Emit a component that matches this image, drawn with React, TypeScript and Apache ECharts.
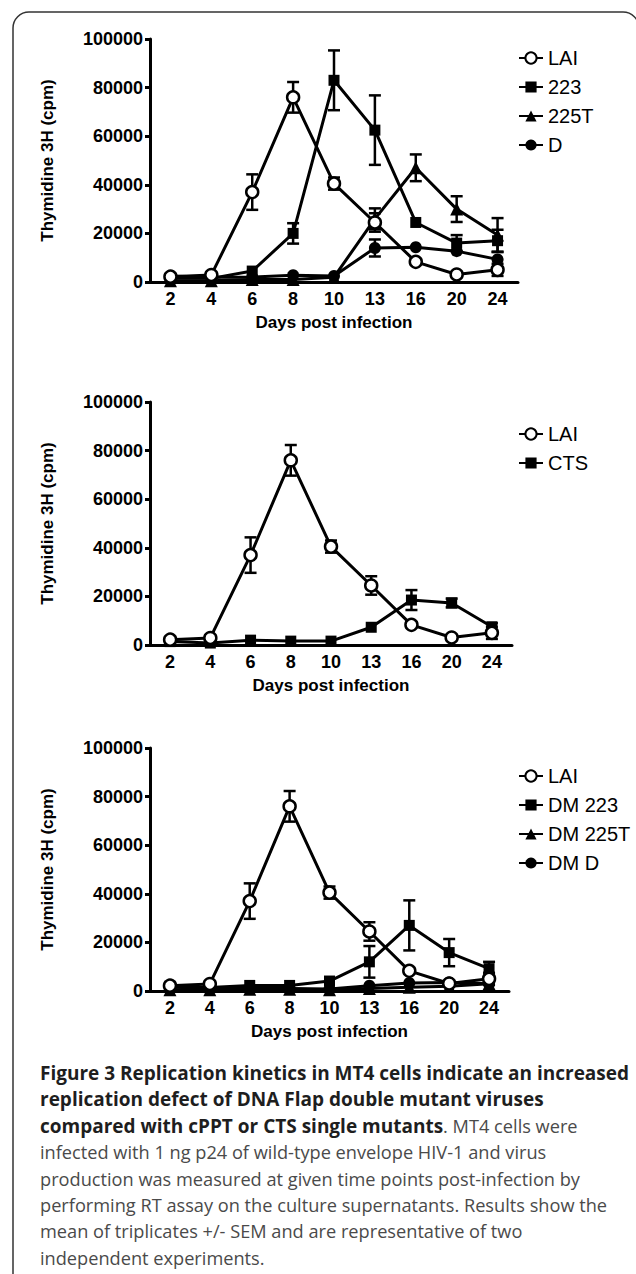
import React, { useEffect, useRef } from "react";
import * as echarts from "echarts";

// ---- data ----
const days = ["2", "4", "6", "8", "10", "13", "16", "20", "24"];

const lai = [2200, 2900, 37000, 76000, 40500, 24500, 8300, 3100, 5000];
const laiSem = [null, null, 7300, 6300, 2500, 3800, null, null, 2500];

const m223 = [1500, 1500, 4500, 20000, 83000, 62500, 24500, 16000, 17000];
const m223Sem = [null, null, null, 4200, 12300, 14300, null, 3300, 4500];

const m225T = [500, 500, 1000, 1000, 2000, 26000, 47000, 30000, 19300];
const m225TSem = [null, null, null, null, null, 4300, 5500, 5300, 7000];

const mD = [2500, 2000, 2000, 2800, 2500, 14000, 14300, 12700, 9300];
const mDSem = [null, null, null, null, null, 3500, null, null, null];

const cts = [1400, 800, 2000, 1600, 1600, 7300, 18500, 17300, 7500];
const ctsSem = [null, null, null, null, null, null, 4100, 1800, 1500];

const dm223 = [2000, 1400, 2300, 2300, 4100, 12000, 27000, 15800, 9200];
const dm223Sem = [null, null, null, null, null, 6500, 10300, 5600, 2800];

const dm225T = [500, 500, 700, 700, 500, 1000, 1500, 2000, 3000];
const dmD = [1500, 1200, 1000, 1000, 800, 2200, 3300, 3500, 3000];

const legendTop = ["LAI", "223", "225T", "D"];
const legendMid = ["LAI", "CTS"];
const legendBot = ["LAI", "DM 223", "DM 225T", "DM D"];

const captionLines = [
  "Figure 3 Replication kinetics in MT4 cells indicate an increased",
  "replication defect of DNA Flap double mutant viruses",
  "compared with cPPT or CTS single mutants",
  "infected with 1 ng p24 of wild-type envelope HIV-1 and virus",
  "production was measured at given time points post-infection by",
  "performing RT assay on the culture supernatants. Results show the",
  "mean of triplicates +/- SEM and are representative of two",
  "independent experiments.",
];
const captionTail = ". MT4 cells were";

const FONT = "'Liberation Sans', Arial, Helvetica, sans-serif";
const CAP_FONT = "'Open Sans', 'Noto Sans', sans-serif";

function errRender(params: any, api: any) {
  const x = api.value(0);
  const m = api.value(1);
  const e = api.value(2);
  const hi = api.coord([x, m + e]);
  const lo = api.coord([x, m - e]);
  const w = 6;
  const st = { stroke: "#000", lineWidth: 2.5 };
  return {
    type: "group",
    children: [
      { type: "line", shape: { x1: hi[0], y1: hi[1], x2: lo[0], y2: lo[1] }, style: st },
      { type: "line", shape: { x1: hi[0] - w, y1: hi[1], x2: hi[0] + w, y2: hi[1] }, style: st },
      { type: "line", shape: { x1: lo[0] - w, y1: lo[1], x2: lo[0] + w, y2: lo[1] }, style: st },
    ],
  };
}

function errSeries(vals: number[], sem: (number | null)[], idx: number) {
  const data = vals
    .map((v, i) => (sem[i] != null ? [i, v, sem[i] as number] : null))
    .filter((d) => d !== null);
  return {
    type: "custom",
    xAxisIndex: idx,
    yAxisIndex: idx,
    renderItem: errRender,
    data,
    encode: { x: 0, y: 1 },
    z: 2,
    silent: true,
  };
}

function lineSeries(name: string, vals: number[], idx: number, kind: string) {
  const base: any = {
    type: "line",
    name,
    xAxisIndex: idx,
    yAxisIndex: idx,
    data: vals,
    lineStyle: { color: "#000", width: 3 },
    z: 3,
    emphasis: { disabled: true },
  };
  if (kind === "open") {
    base.symbol = "circle";
    base.symbolSize = 12;
    base.itemStyle = { color: "#fff", borderColor: "#000", borderWidth: 2.5 };
    base.z = 4;
  } else if (kind === "square") {
    base.symbol = "rect";
    base.symbolSize = 11;
    base.itemStyle = { color: "#000" };
  } else if (kind === "tri") {
    base.symbol = "triangle";
    base.symbolSize = 13;
    base.itemStyle = { color: "#000" };
  } else {
    base.symbol = "circle";
    base.symbolSize = 12;
    base.itemStyle = { color: "#000" };
  }
  return base;
}

const grids = [
  { left: 150, top: 39, width: 368, height: 243 },
  { left: 150, top: 402, width: 362, height: 243 },
  { left: 150, top: 748, width: 359, height: 243 },
];

function xAxis(idx: number) {
  return {
    type: "category",
    gridIndex: idx,
    data: days,
    boundaryGap: true,
    name: "Days post infection",
    nameLocation: "middle",
    nameGap: 32,
    nameTextStyle: { fontFamily: FONT, fontWeight: "bold", fontSize: 17, color: "#000" },
    axisLine: { lineStyle: { color: "#000", width: 3 } },
    axisTick: { alignWithLabel: true, length: 5, lineStyle: { color: "#000", width: 3 } },
    axisLabel: { fontFamily: FONT, fontWeight: "bold", fontSize: 18, color: "#000", margin: 8 },
    splitLine: { show: false },
  };
}

function yAxis(idx: number) {
  return {
    type: "value",
    gridIndex: idx,
    min: 0,
    max: 100000,
    interval: 20000,
    name: "Thymidine 3H (cpm)",
    nameLocation: "middle",
    nameGap: 94,
    nameTextStyle: { fontFamily: FONT, fontWeight: "bold", fontSize: 17, color: "#000" },
    axisLine: { show: true, lineStyle: { color: "#000", width: 3 } },
    axisTick: { show: true, length: 5, lineStyle: { color: "#000", width: 3 } },
    axisLabel: {
      fontFamily: FONT,
      fontWeight: "bold",
      fontSize: 18,
      color: "#000",
      margin: 7,
      formatter: (v: number) => String(v),
    },
    splitLine: { show: false },
  };
}

function legend(names: string[], top: number) {
  return {
    data: names,
    orient: "vertical",
    left: 513,
    top,
    itemWidth: 24,
    itemHeight: 14,
    itemGap: 9,
    selectedMode: false,
    textStyle: { fontFamily: FONT, fontSize: 20, color: "#000", lineHeight: 20 },
  };
}

export default function App() {
  const ref = useRef<HTMLDivElement>(null);
  useEffect(() => {
    document.body.style.margin = "0";
    if (!ref.current) return;
    const chart = echarts.init(ref.current, undefined, { renderer: "svg" });
    const capY0 = 1073;
    const capDy = 26.4;
    const boldStyle = { fontFamily: CAP_FONT, fontSize: 19, fontWeight: "bold", fill: "#1e1e1e" };
    const regStyle = { fontFamily: CAP_FONT, fontSize: 18.2, fontWeight: "normal", fill: "#4a4a4a" };
    const capGraphics: any[] = captionLines.map((t, i) => {
      if (i === 2) {
        return {
          type: "text",
          x: 40,
          y: capY0 + i * capDy,
          style: {
            text: "{b|" + t + "}{r|" + captionTail + "}",
            verticalAlign: "middle",
            rich: { b: boldStyle, r: regStyle },
          },
        };
      }
      const st = i < 2 ? boldStyle : regStyle;
      return {
        type: "text",
        x: 40,
        y: capY0 + i * capDy,
        style: { text: t, verticalAlign: "middle", ...st },
      };
    });
    const option: any = {
      animation: false,
      backgroundColor: "#fff",
      grid: grids,
      xAxis: [xAxis(0), xAxis(1), xAxis(2)],
      yAxis: [yAxis(0), yAxis(1), yAxis(2)],
      legend: [legend(legendTop, 43), legend(legendMid, 419), legend(legendBot, 761)],
      series: [
        errSeries(lai, laiSem, 0),
        errSeries(m223, m223Sem, 0),
        errSeries(m225T, m225TSem, 0),
        errSeries(mD, mDSem, 0),
        lineSeries("225T", m225T, 0, "tri"),
        lineSeries("D", mD, 0, "dot"),
        lineSeries("223", m223, 0, "square"),
        lineSeries("LAI", lai, 0, "open"),

        errSeries(lai, laiSem, 1),
        errSeries(cts, ctsSem, 1),
        lineSeries("CTS", cts, 1, "square"),
        lineSeries("LAI", lai, 1, "open"),

        errSeries(lai, laiSem, 2),
        errSeries(dm223, dm223Sem, 2),
        lineSeries("DM 225T", dm225T, 2, "tri"),
        lineSeries("DM D", dmD, 2, "dot"),
        lineSeries("DM 223", dm223, 2, "square"),
        lineSeries("LAI", lai, 2, "open"),
      ],
      graphic: [
        {
          type: "rect",
          shape: { x: 13, y: 12, width: 626, height: 1280, r: [16, 16, 0, 0] },
          style: { fill: "none", stroke: "#333", lineWidth: 1.5 },
          silent: true,
        },
        ...capGraphics,
      ],
    };
    chart.setOption(option);
    return () => chart.dispose();
  }, []);
  return <div ref={ref} style={{ width: 636, height: 1274 }} />;
}
